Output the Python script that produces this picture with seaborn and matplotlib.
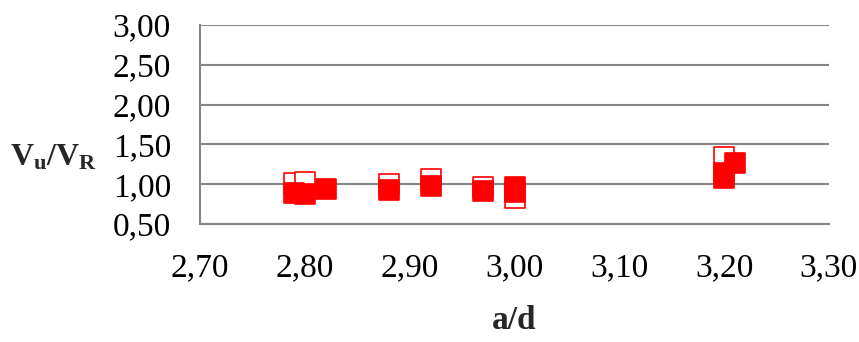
import matplotlib
matplotlib.use("Agg")
import matplotlib.pyplot as plt
import seaborn as sns
import pandas as pd

# hollow markers (drawn first)
x_open = [2.79, 2.80, 2.88, 2.92, 2.97, 3.00, 3.20]
y_open = [1.01, 1.03, 1.00, 1.07, 0.97, 0.83, 1.34]
# filled markers
x_fill = [2.79, 2.80, 2.82, 2.88, 2.92, 2.97, 3.00, 3.00, 3.20, 3.20, 3.21]
y_fill = [0.89, 0.88, 0.94, 0.93, 0.98, 0.91, 0.96, 0.90, 1.14, 1.08, 1.27]

x_ticks = [2.70, 2.80, 2.90, 3.00, 3.10, 3.20, 3.30]
y_ticks = [0.50, 1.00, 1.50, 2.00, 2.50, 3.00]

sns.set_style("white")
plt.rcParams['font.family'] = ['Liberation Serif', 'DejaVu Serif']
plt.rcParams['mathtext.fontset'] = 'custom'
plt.rcParams['mathtext.rm'] = 'Liberation Serif'
plt.rcParams['mathtext.bf'] = 'Liberation Serif:bold'

grid_col = '#868686'

fig = plt.figure(figsize=(8.59, 3.42), dpi=100)
ax = fig.add_axes([0.233, 0.345, 0.732, 0.582])

df_open = pd.DataFrame({'x': x_open, 'y': y_open})
df_fill = pd.DataFrame({'x': x_fill, 'y': y_fill})

sns.scatterplot(data=df_open, x='x', y='y', marker='s', s=220,
                facecolor='white', edgecolor='#ff0000', linewidth=1.2, ax=ax, zorder=3)
sns.scatterplot(data=df_fill, x='x', y='y', marker='s', s=220,
                color='#ff0000', edgecolor='#ff0000', linewidth=1.2, ax=ax, zorder=4)

ax.set_xlim(2.70, 3.30)
ax.set_ylim(0.50, 3.00)
ax.set_xticks(x_ticks)
ax.set_yticks(y_ticks)
ax.set_xticklabels([f'{v:.2f}'.replace('.', ',') for v in x_ticks])
ax.set_yticklabels([f'{v:.2f}'.replace('.', ',') for v in y_ticks])
ax.tick_params(axis='both', labelsize=24, colors=grid_col, labelcolor='black',
               direction='out', length=7, width=1.5)
ax.tick_params(axis='x', pad=14)
ax.tick_params(axis='y', pad=14)

ax.yaxis.grid(True, color=grid_col, linewidth=1.5)
ax.set_axisbelow(True)
for side in ['top', 'right']:
    ax.spines[side].set_visible(False)
for side in ['left', 'bottom']:
    ax.spines[side].set_color(grid_col)
    ax.spines[side].set_linewidth(1.5)

ax.set_xlabel('a/d', fontsize=24, fontweight='bold', labelpad=15)
ax.set_ylabel('')
fig.text(0.012, 0.54, r'$\mathbf{V_u/V_R}$', fontsize=23, va='center', ha='left')

fig.savefig('out.png', dpi=100)
